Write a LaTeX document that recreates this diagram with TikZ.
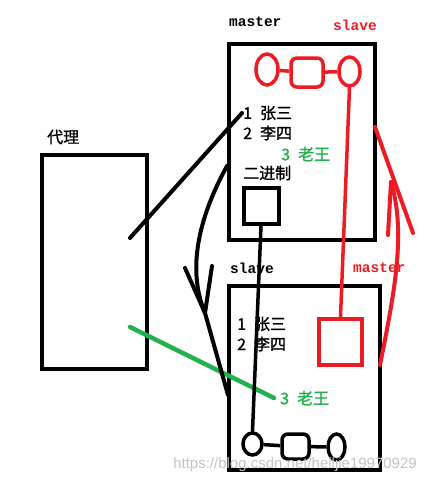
\documentclass[tikz,border=0pt]{standalone}
\usepackage{fontspec}
\usetikzlibrary{shapes.geometric}
\newfontfamily\cjkfont{Noto Sans CJK SC}[BoldFont={Noto Sans CJK SC},BoldFeatures={FakeBold=1.2}]
\newfontfamily\tagfont{Liberation Mono}
\newfontfamily\wmfont{Liberation Sans}
\definecolor{pnred}{HTML}{ED1C24}
\definecolor{pngreen}{HTML}{22B14C}
\definecolor{wmgray}{HTML}{C4C4C4}

\tikzset{
  panel/.style={draw,line width=4pt,inner sep=0pt},
  ring/.style={draw,ellipse,line width=3.5pt,inner sep=0pt},
  link/.style={draw,line width=3.5pt,inner sep=0pt,rounded corners=6pt},
  row/.style={anchor=west,inner sep=1pt,font=\cjkfont\bfseries\fontsize{16}{16}\selectfont},
  tag/.style={anchor=west,inner sep=0pt,font=\tagfont\bfseries\fontsize{14.5}{14.5}\selectfont},
  wire/.style={line width=4pt,line cap=round},
}

\begin{document}
\begin{tikzpicture}[x=1pt,y=-1pt]

  \useasboundingbox[fill=white] (0,0) rectangle (422,485);

  % =====================================================================
  % boxes: proxy, master, slave
  % =====================================================================
  \node[panel,minimum width=105,minimum height=214] (proxy) at (94.5,262) {};
  \node[panel,minimum width=145.5,minimum height=196.5] (master) at (302,142) {};
  \node[panel,minimum width=151,minimum height=184.5] (slave) at (304.5,378) {};

  % labels
  \node[row] (ptag) at (46,137) {代理};
  \node[tag] (mtag) at (229,22) {master};
  \node[tag,pnred] (mtagr) at (333,25) {slave};
  \node[tag] (stag) at (230,268) {slave};
  \node[tag,pnred] (stagr) at (353,268) {master};

  % master rows
  \node[row] (m1) at (242,113) {1\enspace 张三};
  \node[row] (m2) at (242,133) {2\enspace 李四};
  \node[row,pngreen] (m3) at (280,154) {3\enspace 老王};
  \node[row] (m4) at (242,173) {二进制};

  % slave rows
  \node[row] (s1) at (236,324) {1\enspace 张三};
  \node[row] (s2) at (236,344) {2\enspace 李四};
  \node[row,pngreen] (s3) at (279,398) {3\enspace 老王};

  % squares
  \node[panel,minimum width=35,minimum height=36] (msq) at (261,206) {};
  \node[panel,draw=pnred,minimum width=43,minimum height=46] (ssq) at (340.5,342) {};

  % red chain (master)
  \node[ring,draw=pnred,minimum width=22,minimum height=31] (mr1) at (267,69.5) {};
  \node[link,draw=pnred,minimum width=32,minimum height=29] (mr2) at (307,72.5) {};
  \node[ring,draw=pnred,minimum width=21,minimum height=29] (mr3) at (349.5,71.5) {};
  \draw[pnred,line width=3.5pt] (mr1) -- (mr2) (mr2) -- (mr3);

  % black chain (slave)
  \node[ring,minimum width=19,minimum height=22] (sr1) at (252.5,444) {};
  \node[link,minimum width=27,minimum height=25] (sr2) at (295.5,446.5) {};
  \node[ring,minimum width=17,minimum height=26] (sr3) at (336.5,447) {};
  \draw[line width=3.5pt] (sr1) -- (sr2) (sr2) -- (sr3);

  % =====================================================================
  % connectors
  % =====================================================================
  \coordinate (pa) at (130,238);
  \coordinate (pb) at (130,327);
  \coordinate (ml) at (227,166);
  \coordinate (btip) at (205,313);
  \coordinate (sl) at (228,395);
  \coordinate (sr) at (380,365);
  \coordinate (rtip) at (391,182);

  \draw[wire] (pa) -- (m1.west);
  \draw[wire,pngreen,line width=4.5pt] (pb) -- ([xshift=-5pt]s3.west);
  \draw[wire,line width=3.5pt] (msq.south) -- (sr1.north);
  \draw[wire,pnred,line width=3.5pt] (mr3.south) -- (ssq.north);

  % master -> slave (black)
  \draw[wire] (ml) .. controls (200,215) and (186,268) .. (btip) -- (sl);
  \draw[wire] (btip) -- (185,268) (btip) -- (212,266);

  % slave -> master (red)
  \draw[wire,pnred] (sr) .. controls (395,290) and (406,232) .. (rtip);
  \draw[wire,pnred] (375,127) -- (413,233) (rtip) -- (388,235);

  % watermark
  \node[anchor=east,inner sep=0pt,wmgray,font=\wmfont\fontsize{15}{15}\selectfont]
        (wm) at (417,465) {https://blog.csdn.net/helljie19970929};

\end{tikzpicture}
\end{document}
